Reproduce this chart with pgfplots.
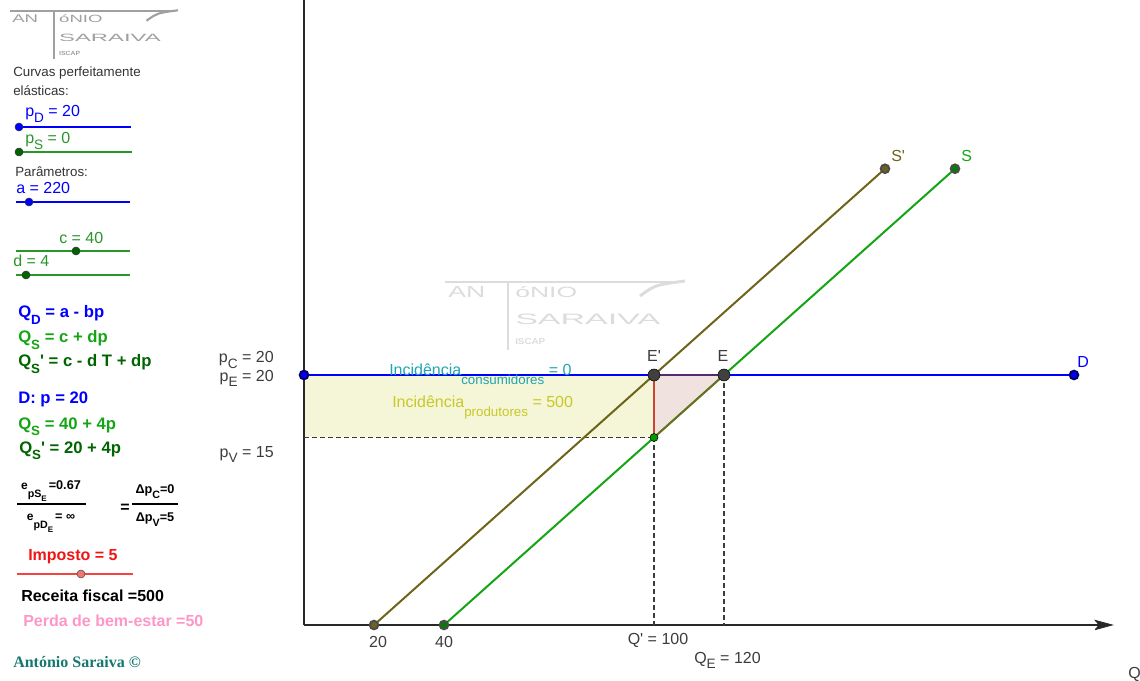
\documentclass[border=0pt]{standalone}
\usepackage{pgfplots}
\pgfplotsset{compat=1.18}
\usepackage{fontspec}
\setmainfont{Liberation Sans}
\newfontfamily\tnr{Liberation Serif}
\usepackage{graphicx}

\definecolor{sgreen}{RGB}{20,165,20}
\definecolor{tgreen}{RGB}{40,150,40}
\definecolor{dgreen}{RGB}{0,100,0}
\definecolor{olivetwo}{RGB}{110,100,25}
\definecolor{yelfill}{RGB}{245,245,215}
\definecolor{pinkfill}{RGB}{240,226,222}
\definecolor{redline}{RGB}{205,70,50}
\definecolor{hypo}{RGB}{120,105,35}
\definecolor{topedge}{RGB}{90,40,110}
\definecolor{tealtwo}{RGB}{30,165,175}
\definecolor{yeltwo}{RGB}{200,200,40}
\definecolor{axcol}{RGB}{40,40,40}
\definecolor{lblcol}{RGB}{60,60,60}
\definecolor{pinktxt}{RGB}{255,150,200}
\definecolor{sigcol}{RGB}{20,120,110}
\definecolor{imp}{RGB}{240,20,20}
\definecolor{impdot}{RGB}{240,120,110}
\definecolor{wm}{RGB}{220,220,220}
\definecolor{wmtl}{RGB}{160,160,160}

\newcommand\sub[1]{\raisebox{-0.6ex}{\scalebox{0.85}{#1}}}
\newcommand\subb[1]{\raisebox{-0.75ex}{\scalebox{0.8}{#1}}}
\newcommand\pr{\textquotesingle}
\newcommand\F{\fontsize{12}{14}\selectfont}
\newcommand\Fs{\fontsize{10}{12}\selectfont}
\newcommand\Fb{\fontsize{12.5}{15}\selectfont\bfseries}

\newcommand\logo[2]{%
  \draw[#1, line width=#2] (0,0) -- (235,0);
  \draw[#1, line width=#2] (195,14) .. controls (210,3) .. (240,-1);
  \draw[#1, line width=#2] (63,0) -- (63,68);
  \node[anchor=base west, inner sep=0, text=#1] at (3,16) {\resizebox{27.75pt}{8.25pt}{AN}};
  \node[anchor=base west, inner sep=0, text=#1] at (70,16) {\resizebox{46.5pt}{8.25pt}{óNIO}};
  \node[anchor=base west, inner sep=0, text=#1] at (70,43) {\resizebox{108.75pt}{7.9pt}{SARAIVA}};
  \node[anchor=base west, inner sep=0, text=#1] at (70,63) {\resizebox{22.5pt}{4.5pt}{\bfseries ISCAP}};
}

\begin{document}
\begin{tikzpicture}
\useasboundingbox (0pt,0pt) rectangle (855pt,510.75pt);

% watermarks (local pixel coordinates, y downwards)
\begin{scope}[shift={(333.75pt,299.25pt)}, x=0.75pt, y=-0.75pt]
  \logo{wm}{2.2pt}
\end{scope}
\begin{scope}[shift={(7.5pt,502.5pt)}, x=0.75pt, y=-0.75pt, scale=0.7, transform shape]
  \logo{wmtl}{1.6pt}
\end{scope}

% main axis (Q horizontal, p vertical); origin at pixel (304,625)
\begin{axis}[
  at={(228pt,42pt)}, anchor=south west,
  x=2.625pt, y=9.375pt,
  xmin=0, xmax=231, ymin=0, ymax=50,
  hide axis, clip=false,
]
\addplot[fill=yelfill, draw=none] coordinates {(0,15) (100,15) (100,20) (0,20) (0,15)};
\addplot[fill=pinkfill, draw=none] coordinates {(100,20) (120,20) (100,15) (100,20)};
% axis lines
\addplot[axcol, line width=1.3pt] coordinates {(0,0) (0,50)};
\addplot[axcol, line width=1.3pt] coordinates {(0,0) (227,0)};
\addplot[fill=axcol, draw=axcol, line width=0.5pt] coordinates {(226,-0.38) (231,0) (226,0.38) (227.2,0) (226,-0.38)};
% dashed guides
\addplot[lblcol, line width=0.8pt, dash pattern=on 3.5pt off 2.5pt] coordinates {(0,15) (100,15)};
\addplot[lblcol, line width=0.8pt, dash pattern=on 3.5pt off 2.5pt] coordinates {(100,15) (100,0)};
\addplot[lblcol, line width=0.8pt, dash pattern=on 3.5pt off 2.5pt] coordinates {(120,20) (120,0)};
\addplot[redline, line width=1pt] coordinates {(100,20) (100,15)};
% supply curves
\addplot[olivetwo, line width=1.5pt, mark=*, mark size=3.2pt,
  mark options={fill=olivetwo, draw=black!70}] coordinates {(20,0) (166,36.5)};
\addplot[sgreen, line width=1.5pt, mark=*, mark size=3.2pt,
  mark options={fill=green!50!black, draw=black!70}] coordinates {(40,0) (186,36.5)};
\addplot[hypo, line width=1.3pt] coordinates {(100,15) (120,20)};
% demand
\addplot[blue, line width=1.5pt, mark=*, mark size=3.2pt,
  mark options={fill=blue, draw=black!60!blue}] coordinates {(0,20) (220,20)};
\addplot[topedge, line width=1.5pt] coordinates {(100,20) (120,20)};
% points
\addplot[only marks, mark=*, mark size=3pt,
  mark options={fill=green!60!black, draw=black}] coordinates {(100,15)};
\addplot[only marks, mark=*, mark size=4.5pt,
  mark options={fill=black!75, draw=black}] coordinates {(100,20) (120,20)};
\end{axis}

% overlay axis in pixel coordinates (y downwards) for sliders and texts
\begin{axis}[
  at={(0pt,0pt)}, anchor=south west,
  x=0.75pt, y=0.75pt, y dir=reverse,
  xmin=0, xmax=1140, ymin=0, ymax=681,
  hide axis, clip=false,
]
\addplot[blue, line width=0.9pt] coordinates {(18,127) (131,127)};
\addplot[only marks, mark=*, mark size=3pt, mark options={fill=blue, draw=black!80}] coordinates {(19,127)};
\addplot[tgreen, line width=0.9pt] coordinates {(18,152) (132,152)};
\addplot[only marks, mark=*, mark size=3pt, mark options={fill=dgreen, draw=black!80}] coordinates {(19,152)};
\addplot[blue, line width=0.9pt] coordinates {(16,202) (130,202)};
\addplot[only marks, mark=*, mark size=3pt, mark options={fill=blue, draw=black!80}] coordinates {(29,202)};
\addplot[tgreen, line width=0.9pt] coordinates {(16,251) (130,251)};
\addplot[only marks, mark=*, mark size=3pt, mark options={fill=dgreen, draw=black!80}] coordinates {(76,251)};
\addplot[tgreen, line width=0.9pt] coordinates {(16,275) (130,275)};
\addplot[only marks, mark=*, mark size=3pt, mark options={fill=dgreen, draw=black!80}] coordinates {(26,275)};
\addplot[imp!80!white, line width=0.9pt] coordinates {(17,574) (133,574)};
\addplot[only marks, mark=*, mark size=3pt, mark options={fill=impdot, draw=black!70}] coordinates {(81,574)};
\addplot[black, line width=1.1pt] coordinates {(17,504) (86,504)};
\addplot[black, line width=1.1pt] coordinates {(132,504) (178,504)};

\begin{scope}[every node/.style={inner sep=0, text=lblcol}]
\node[anchor=base east] at (axis cs:274,363) {\F p\sub{C} = 20};
\node[anchor=base east] at (axis cs:274,381) {\F p\sub{E} = 20};
\node[anchor=base east] at (axis cs:274,457) {\F p\sub{V} = 15};
\node[anchor=base] at (axis cs:654,361) {\F E\pr};
\node[anchor=base] at (axis cs:723,361) {\F E};
\node[anchor=base west, text=blue] at (axis cs:1077,368) {\F D};
\node[anchor=base west, text=olivetwo] at (axis cs:891,162) {\F S\pr};
\node[anchor=base west, text=sgreen] at (axis cs:961,162) {\F S};
\node[anchor=base] at (axis cs:378,647) {\F 20};
\node[anchor=base] at (axis cs:444,647) {\F 40};
\node[anchor=base] at (axis cs:658,644) {\F Q\pr{} = 100};
\node[anchor=base west] at (axis cs:694,663) {\F Q\sub{E} = 120};
\node[anchor=base west] at (axis cs:1128,678) {\F Q};
\node[anchor=base west, text=tealtwo] at (axis cs:389,375) {\F Incidência\raisebox{-7pt}{\Fs consumidores} = 0};
\node[anchor=base west, text=yeltwo] at (axis cs:392,407) {\F Incidência\raisebox{-7pt}{\Fs produtores} = 500};

\node[anchor=base west, text=black!80] at (axis cs:13,77) {\Fs Curvas perfeitamente};
\node[anchor=base west, text=black!80] at (axis cs:13,96) {\Fs elásticas:};
\node[anchor=base west, text=blue] at (axis cs:25,117) {\F p\sub{D} = 20};
\node[anchor=base west, text=tgreen] at (axis cs:25,144) {\F p\sub{S} = 0};
\node[anchor=base west, text=black!80] at (axis cs:15,177) {\Fs Parâmetros:};
\node[anchor=base west, text=blue] at (axis cs:16,194) {\F a = 220};
\node[anchor=base west, text=tgreen] at (axis cs:59,244) {\F c = 40};
\node[anchor=base west, text=tgreen] at (axis cs:13,267) {\F d = 4};

\node[anchor=base west, text=blue] at (axis cs:18,318) {\Fb Q\subb{D} = a - bp};
\node[anchor=base west, text=sgreen] at (axis cs:18,343) {\Fb Q\subb{S} = c + dp};
\node[anchor=base west, text=dgreen] at (axis cs:18,367) {\Fb Q\subb{S}\pr{} = c - d T + dp};
\node[anchor=base west, text=blue] at (axis cs:18,403) {\Fb D: p = 20};
\node[anchor=base west, text=sgreen] at (axis cs:18,429) {\Fb Q\subb{S} = 40 + 4p};
\node[anchor=base west, text=dgreen] at (axis cs:19,453) {\Fb Q\subb{S}\pr{} = 20 + 4p};

\node[anchor=base, text=black] at (axis cs:51,489) {\bfseries\fontsize{9}{10}\selectfont e\raisebox{-6pt}{\fontsize{8}{9}\selectfont pS\raisebox{-3pt}{\fontsize{6}{7}\selectfont E}}\,\fontsize{9.5}{10}\selectfont =0.67};
\node[anchor=base, text=black] at (axis cs:51,520) {\bfseries\fontsize{9}{10}\selectfont e\raisebox{-6pt}{\fontsize{8}{9}\selectfont pD\raisebox{-3pt}{\fontsize{6}{7}\selectfont E}}\,\fontsize{9.5}{10}\selectfont = ∞};
\node[anchor=base, text=black] at (axis cs:125,512) {\bfseries\fontsize{12}{14}\selectfont =};
\node[anchor=base, text=black] at (axis cs:155,493) {\bfseries\fontsize{9.5}{10}\selectfont Δp\raisebox{-4pt}{\fontsize{8}{9}\selectfont C}=0};
\node[anchor=base, text=black] at (axis cs:155,521) {\bfseries\fontsize{9.5}{10}\selectfont Δp\raisebox{-4pt}{\fontsize{8}{9}\selectfont V}=5};

\node[anchor=base west, text=imp] at (axis cs:28,560) {\fontsize{12}{14}\selectfont\bfseries Imposto = 5};
\node[anchor=base west, text=black] at (axis cs:21,601) {\fontsize{12}{14}\selectfont\bfseries Receita fiscal =500};
\node[anchor=base west, text=pinktxt] at (axis cs:23,626) {\fontsize{12}{14}\selectfont\bfseries Perda de bem-estar =50};
\node[anchor=base west, text=sigcol] at (axis cs:13,667) {\tnr\fontsize{12}{14}\selectfont\bfseries António Saraiva ©};
\end{scope}
\end{axis}
\end{tikzpicture}
\end{document}
